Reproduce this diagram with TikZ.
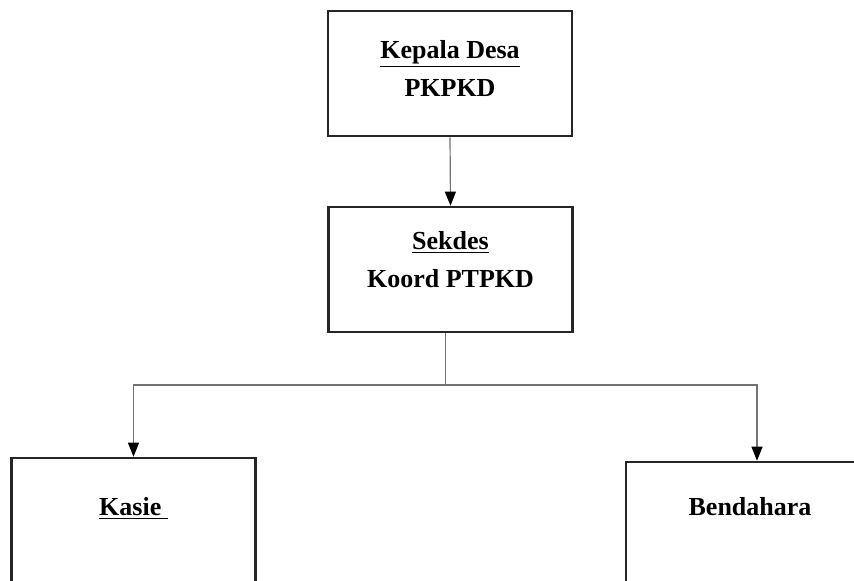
\documentclass[tikz,border=0pt]{standalone}
\usepackage{fontspec}
\setmainfont{Liberation Serif}
\usetikzlibrary{arrows.meta, positioning}

\begin{document}
\begin{tikzpicture}[x=0.5pt, y=-0.5pt,
    box/.style={draw=black!85, line width=1.3pt, minimum width=122pt, minimum height=62.5pt, inner sep=0pt},
    lbl/.style={font=\fontsize{13}{19}\selectfont\bfseries, align=center, inner sep=0pt},
    conn/.style={draw=black!55, line width=0.6pt},
    arr/.style={conn, -{Triangle[width=5.5pt, length=7pt, fill=black, color=black]}}
]
    \useasboundingbox (0,0) rectangle (854,581);
    \clip (0,0) rectangle (854,581);
    % boxes
    \node[box] (kades) at (450,73.5) {};
    \node[box] (sekdes) at (450.5,269.5) {};
    \node[box] (kasie) at (133.5,520.5) {};
    \node[box, minimum width=131pt] (bendahara) at (757,524.5) {};
    % texts
    \node[lbl] (kadesText) at ([yshift=2.5pt]kades.center) {\underline{Kepala Desa}\\PKPKD};
    \node[lbl] (sekdesText) at ([yshift=5pt]sekdes.center) {\underline{Sekdes}\\Koord PTPKD};
    \node[lbl] (kasieText) at ([yshift=-26pt]kasie.north) {\underline{Kasie\ }};
    \node[lbl] (bendaharaText) at ([xshift=-3.5pt, yshift=-22.75pt]bendahara.north) {Bendahara};
    % connectors
    \coordinate (drop) at ([xshift=-2.5pt]sekdes.south);
    \coordinate (bus) at (drop |- 0,385);
    \draw[arr] (kades.south) -- (sekdes.north);
    \draw[conn] (drop) -- (bus);
    \draw[arr] (bus) -| (kasie.north);
    \draw[arr] (bus) -| (bendahara.north);
\end{tikzpicture}
\end{document}
